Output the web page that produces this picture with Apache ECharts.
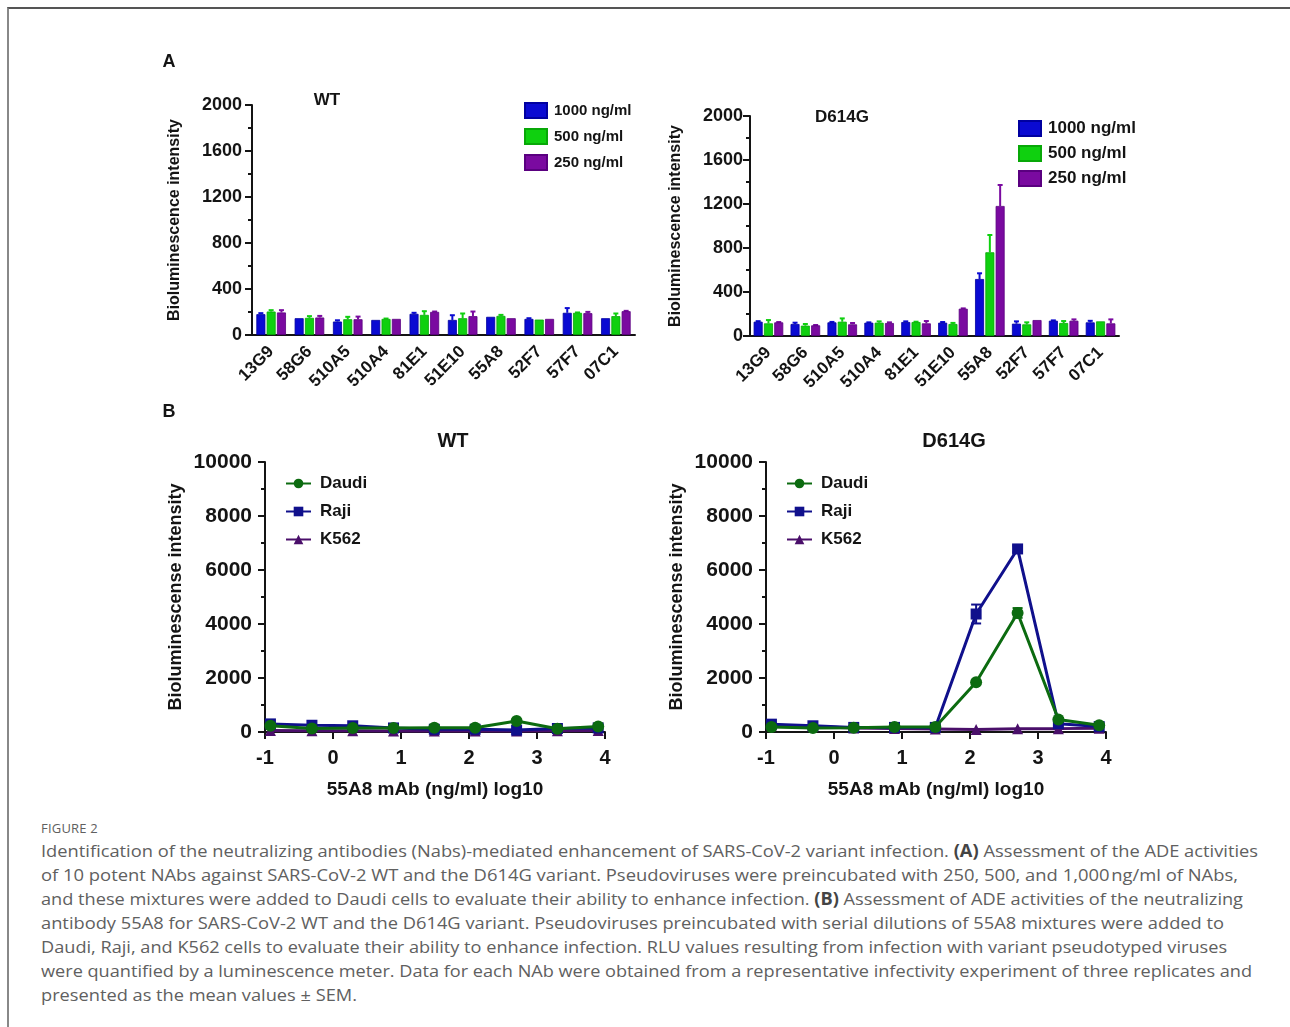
<!DOCTYPE html>
<html>
<head>
<meta charset="utf-8">
<script src="https://cdn.jsdelivr.net/npm/echarts@6/dist/echarts.min.js"></script>
<style>
  html,body{margin:0;padding:0;background:#fff;}
  #frame{position:absolute;left:7px;top:7px;width:1290px;height:1030px;border-top:2px solid #555;border-left:2px solid #888;box-sizing:border-box;}
  #chart{position:absolute;left:0;top:0;width:1290px;height:815px;}
  #cap{position:absolute;left:41px;top:0;font-family:"Open Sans",sans-serif;color:#606060;}
  .fig{position:absolute;left:0;top:820px;font-size:13px;line-height:16px;white-space:nowrap;letter-spacing:0.2px;}
  .ln{position:absolute;left:0;font-size:17px;line-height:24px;white-space:nowrap;transform-origin:0 50%;}
  .ln b{color:#444;}
</style>
</head>
<body>
<div id="frame"></div>
<div id="chart"></div>
<div id="cap">
  <div class="fig">FIGURE 2</div>
  <div class="ln" data-w="1217" style="top:839px">Identification of the neutralizing antibodies (Nabs)-mediated enhancement of SARS-CoV-2 variant infection. <b>(A)</b> Assessment of the ADE activities</div>
  <div class="ln" data-w="1197" style="top:863px">of 10 potent NAbs against SARS-CoV-2 WT and the D614G variant. Pseudoviruses were preincubated with 250, 500, and 1,000&#8202;ng/ml of NAbs,</div>
  <div class="ln" data-w="1202" style="top:887px">and these mixtures were added to Daudi cells to evaluate their ability to enhance infection. <b>(B)</b> Assessment of ADE activities of the neutralizing</div>
  <div class="ln" data-w="1183" style="top:911px">antibody 55A8 for SARS-CoV-2 WT and the D614G variant. Pseudoviruses preincubated with serial dilutions of 55A8 mixtures were added to</div>
  <div class="ln" data-w="1186" style="top:935px">Daudi, Raji, and K562 cells to evaluate their ability to enhance infection. RLU values resulting from infection with variant pseudotyped viruses</div>
  <div class="ln" data-w="1211" style="top:959px">were quantified by a luminescence meter. Data for each NAb were obtained from a representative infectivity experiment of three replicates and</div>
  <div class="ln" data-w="316" style="top:983px">presented as the mean values ± SEM.</div>
</div>
<script>
// ---------------- DATA ----------------
const antibodies = ['13G9','58G6','510A5','510A4','81E1','51E10','55A8','52F7','57F7','07C1'];
const concNames = ['1000 ng/ml','500 ng/ml','250 ng/ml'];

// Panel A, WT
const wt1000    = [181,146,117,131,184,131,158,140,193,146];
const wt1000Err = [9,0,11,0,9,41,0,6,41,0];
const wt500     = [204,149,137,140,175,146,166,134,193,164];
const wt500Err  = [12,15,21,3,32,41,9,0,3,23];
const wt250     = [196,152,137,140,201,164,146,140,190,207];
const wt250Err  = [20,14,23,0,3,40,0,0,11,3];

// Panel A, D614G
const d1000     = [130,109,124,121,127,121,518,112,139,124];
const d1000Err  = [5,12,4,3,6,6,52,21,3,14];
const d500      = [115,94,130,121,127,109,761,106,118,133];
const d500Err   = [30,15,30,12,3,10,157,18,18,0];
const d250      = [124,97,106,118,115,248,1182,145,139,115];
const d250Err   = [3,3,12,6,21,3,191,0,12,36];

// Panel B
const cellNames = ['Daudi','Raji','K562'];
const logConc   = [-0.92,-0.31,0.29,0.89,1.49,2.09,2.70,3.30,3.90];
const wtDaudi   = [230,130,150,150,160,160,410,120,200];
const wtRaji    = [300,250,230,150,100,100,70,130,150];
const wtK562    = [60,50,50,40,40,40,40,50,60];
const dDaudi    = [185,150,160,185,185,1840,4410,460,250];
const dDaudiErr = [0,0,0,0,0,60,180,60,0];
const dRaji     = [290,230,170,170,170,4370,6780,310,200];
const dRajiErr  = [30,0,0,0,0,350,120,0,0];
const dK562     = [260,200,150,130,110,90,120,125,140];

const yTicksA = [0,400,800,1200,1600,2000];
const yTicksB = [0,2000,4000,6000,8000,10000];
const xTicksB = [-1,0,1,2,3,4];

// ---------------- STYLE ----------------
const FONT = '"Liberation Sans", Arial, sans-serif';
const INK = '#141414';
const barColors = ['#0a0ad2','#0fd00f','#7a0aa0'];
const barBorders = ['#0000a0','#08a808','#5a0080'];
const lineColors = ['#0c6b10','#10108c','#4a0f6a'];
const BAR_W = 9, BAR_STEP = 10.3;
const plain = v => String(v);

const chart = echarts.init(document.getElementById('chart'), null, {renderer:'canvas'});

function barAxesX(gi){
  return {type:'category', gridIndex:gi, data:antibodies, boundaryGap:true,
    axisLine:{lineStyle:{color:INK,width:2}},
    axisTick:{alignWithLabel:true,length:6,lineStyle:{color:INK,width:2}},
    axisLabel:{rotate:45,margin:14,color:INK,fontFamily:FONT,fontWeight:'bold',fontSize:17,interval:0},
    splitLine:{show:false}};
}
function barAxesY(gi, gap, margin){
  return {type:'value', gridIndex:gi, min:yTicksA[0], max:yTicksA[yTicksA.length-1], interval:400,
    name:'Bioluminescence intensity', nameLocation:'middle', nameGap:gap,
    nameTextStyle:{color:INK,fontFamily:FONT,fontWeight:'bold',fontSize:16},
    axisLine:{show:true,onZero:false,lineStyle:{color:INK,width:2}},
    axisTick:{show:true,length:7,lineStyle:{color:INK,width:2}},
    minorTick:{show:true,splitNumber:2,length:4,lineStyle:{color:INK,width:2}},
    axisLabel:{margin:margin,color:INK,fontFamily:FONT,fontWeight:'bold',fontSize:18,formatter:plain},
    splitLine:{show:false}, minorSplitLine:{show:false}};
}
function lineAxesX(gi){
  return {type:'value', gridIndex:gi, min:xTicksB[0], max:xTicksB[xTicksB.length-1], interval:1,
    name:'55A8 mAb (ng/ml) log10', nameLocation:'middle', nameGap:48,
    nameTextStyle:{color:INK,fontFamily:FONT,fontWeight:'bold',fontSize:19},
    axisLine:{show:true,onZero:false,lineStyle:{color:INK,width:2}},
    axisTick:{show:true,length:7,lineStyle:{color:INK,width:2}},
    axisLabel:{margin:16,color:INK,fontFamily:FONT,fontWeight:'bold',fontSize:20,formatter:plain},
    splitLine:{show:false}};
}
function lineAxesY(gi){
  return {type:'value', gridIndex:gi, min:yTicksB[0], max:yTicksB[yTicksB.length-1], interval:2000,
    name:'Bioluminescense intensity', nameLocation:'middle', nameGap:80,
    nameTextStyle:{color:INK,fontFamily:FONT,fontWeight:'bold',fontSize:18},
    axisLine:{show:true,onZero:false,lineStyle:{color:INK,width:2}},
    axisTick:{show:true,length:7,lineStyle:{color:INK,width:2}},
    minorTick:{show:true,splitNumber:2,length:4,lineStyle:{color:INK,width:2}},
    axisLabel:{margin:13,color:INK,fontFamily:FONT,fontWeight:'bold',fontSize:21,formatter:plain},
    splitLine:{show:false}, minorSplitLine:{show:false}};
}

function barSeries(gi, idx, vals){
  return {type:'bar', name:concNames[idx], xAxisIndex:gi, yAxisIndex:gi, data:vals,
    barWidth:BAR_W, barGap:((BAR_STEP-BAR_W)/BAR_W*100).toFixed(1)+'%',
    itemStyle:{color:barColors[idx], borderColor:barBorders[idx], borderWidth:0.8}, z:2};
}
function barErrSeries(gi, idx, vals, errs){
  const off = (idx-1)*BAR_STEP;
  return {type:'custom', xAxisIndex:gi, yAxisIndex:gi, z:1, silent:true,
    data: vals.map((v,i)=>[i, v, errs[i]]),
    renderItem:function(params, api){
      const e = api.value(2); if(!e) return null;
      const p0 = api.coord([api.value(0), api.value(1)]);
      const p1 = api.coord([api.value(0), api.value(1)+e]);
      const x = p0[0]+off;
      const st = {stroke:barColors[idx], lineWidth:2};
      return {type:'group', children:[
        {type:'line', shape:{x1:x,y1:p0[1],x2:x,y2:p1[1]}, style:st},
        {type:'line', shape:{x1:x-2.5,y1:p1[1],x2:x+2.5,y2:p1[1]}, style:st}
      ]};
    }};
}
const symbols = ['circle','rect','triangle'];
const symSizes = [12,11,11];
function lineSeries(gi, idx, vals){
  return {type:'line', name:cellNames[idx], xAxisIndex:gi, yAxisIndex:gi,
    data: logConc.map((x,i)=>[x, vals[i]]),
    symbol:symbols[idx], symbolSize:symSizes[idx], showAllSymbol:true,
    lineStyle:{color:lineColors[idx], width:3},
    itemStyle:{color:lineColors[idx]}, z: 10-idx};
}
function lineErrSeries(gi, idx, vals, errs){
  return {type:'custom', xAxisIndex:gi, yAxisIndex:gi, z:9, silent:true,
    data: logConc.map((x,i)=>[x, vals[i], errs[i]]),
    renderItem:function(params, api){
      const e = api.value(2); if(!e) return null;
      const x = api.value(0), m = api.value(1);
      const pa = api.coord([x, m+e]), pb = api.coord([x, m-e]);
      const st = {stroke:lineColors[idx], lineWidth:2};
      return {type:'group', children:[
        {type:'line', shape:{x1:pa[0],y1:pa[1],x2:pb[0],y2:pb[1]}, style:st},
        {type:'line', shape:{x1:pa[0]-5,y1:pa[1],x2:pa[0]+5,y2:pa[1]}, style:st},
        {type:'line', shape:{x1:pb[0]-5,y1:pb[1],x2:pb[0]+5,y2:pb[1]}, style:st}
      ]};
    }};
}

function barLegend(left, top, fs, gap){
  return {left:left, top:top, orient:'vertical', data:concNames, icon:'rect',
    itemWidth:22, itemHeight:15, itemGap:gap, selectedMode:false,
    textStyle:{color:INK,fontFamily:FONT,fontWeight:'bold',fontSize:fs,padding:[0,0,0,2]}};
}
function lineLegend(left, top){
  return {left:left, top:top, orient:'vertical', data:cellNames,
    itemWidth:25, itemHeight:12, itemGap:11, selectedMode:false,
    textStyle:{color:INK,fontFamily:FONT,fontWeight:'bold',fontSize:17,padding:[0,0,0,4]}};
}
function ttl(text, cx, top, fs){
  return {text:text, left:cx, top:top, textAlign:'center', padding:0,
    textStyle:{color:INK,fontFamily:FONT,fontWeight:'bold',fontSize:fs}};
}

const option = {
  animation:false,
  backgroundColor:'transparent',
  title:[
    ttl('A',169,53,18), ttl('B',169,403,18),
    ttl('WT',327,92,17), ttl('D614G',842,109,17),
    ttl('WT',453,431,20), ttl('D614G',954,431,20)
  ],
  legend:[ barLegend(519,97,15,9), barLegend(1013,115,17,8), lineLegend(280,470), lineLegend(781,470) ],
  grid:[
    {left:252, top:105, width:383, height:230},
    {left:750, top:116, width:369, height:220},
    {left:265, top:462, width:340, height:270},
    {left:766, top:462, width:340, height:270}
  ],
  xAxis:[ barAxesX(0), barAxesX(1), lineAxesX(2), lineAxesX(3) ],
  yAxis:[ barAxesY(0,69,10), barAxesY(1,66,7), lineAxesY(2), lineAxesY(3) ],
  series:[
    barSeries(0,0,wt1000), barSeries(0,1,wt500), barSeries(0,2,wt250),
    barErrSeries(0,0,wt1000,wt1000Err), barErrSeries(0,1,wt500,wt500Err), barErrSeries(0,2,wt250,wt250Err),
    barSeries(1,0,d1000), barSeries(1,1,d500), barSeries(1,2,d250),
    barErrSeries(1,0,d1000,d1000Err), barErrSeries(1,1,d500,d500Err), barErrSeries(1,2,d250,d250Err),
    lineSeries(2,0,wtDaudi), lineSeries(2,1,wtRaji), lineSeries(2,2,wtK562),
    lineSeries(3,0,dDaudi), lineSeries(3,1,dRaji), lineSeries(3,2,dK562),
    lineErrSeries(3,0,dDaudi,dDaudiErr), lineErrSeries(3,1,dRaji,dRajiErr)
  ]
};
chart.setOption(option);

// fit caption lines to their measured widths in the reference
document.querySelectorAll('.ln').forEach(el=>{
  const target = +el.dataset.w;
  const w = el.getBoundingClientRect().width;
  if (w>0) el.style.transform = 'scaleX(' + (target/w).toFixed(4) + ')';
});
</script>
</body>
</html>
